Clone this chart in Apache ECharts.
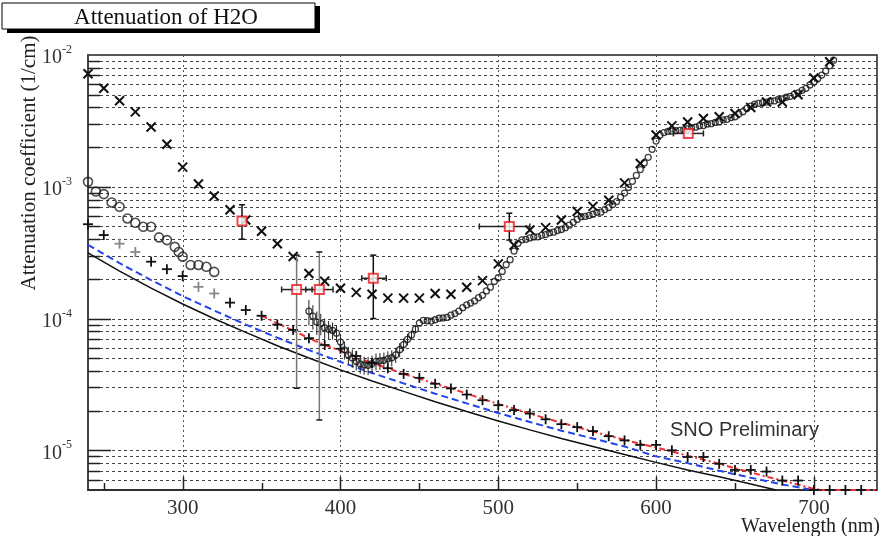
<!DOCTYPE html>
<html><head><meta charset="utf-8">
<script src="https://cdn.jsdelivr.net/npm/echarts@6/dist/echarts.min.js"></script>
<style>html,body{margin:0;padding:0;background:#fff}#c{width:882px;height:536px}</style>
</head><body><div id="c"></div>
<script>
// ---------------- axis ranges & ticks ----------------
const X_MIN = 240, X_MAX = 740, Y_MIN = 5e-6, Y_MAX = 1e-2;
const xTickLabels = [300, 400, 500, 600, 700];
const xMinorTicks = [250, 350, 450, 550, 650];

// ---------------- data: "x" markers ----------------
const crossWl = [240,250,260,270,280,290,300,310,320,330,340,350,360,370,380,390,400,410,420,430,440,450,460,470,480,490,500,510,520,530,540,550,560,570,580,590,600,610,620,630,640,650,660,670,680,690,700,710];
const crossVal = [7.2e-3,5.6e-3,4.5e-3,3.7e-3,2.84e-3,2.1e-3,1.41e-3,1.05e-3,8.5e-4,6.7e-4,5.6e-4,4.6e-4,3.7e-4,2.96e-4,2.2e-4,1.92e-4,1.7e-4,1.58e-4,1.53e-4,1.43e-4,1.43e-4,1.43e-4,1.55e-4,1.53e-4,1.73e-4,1.94e-4,2.6e-4,3.6e-4,4.7e-4,4.9e-4,5.6e-4,6.5e-4,7.1e-4,7.9e-4,1.07e-3,1.5e-3,2.47e-3,2.9e-3,3.1e-3,3.3e-3,3.4e-3,3.6e-3,4.0e-3,4.4e-3,4.4e-3,5.0e-3,6.7e-3,8.9e-3];

// ---------------- data: open circles ----------------
const circWl = [240,245,250,255,260,265,270,275,280,285,290,295,297.5,300,305,310,315,320];
const circVal = [1.09e-3,9.2e-4,8.8e-4,7.6e-4,7.05e-4,5.75e-4,5.33e-4,4.97e-4,4.97e-4,4.13e-4,3.94e-4,3.5e-4,3.2e-4,2.95e-4,2.55e-4,2.55e-4,2.47e-4,2.26e-4];

// ---------------- data: "+" markers ----------------
const plusWl = [240,250,280,290,300,330,340,350,360,370,380,390,400,410,420,430,440,450,460,470,480,490,500,510,520,530,540,550,560,570,580,590,600,610,620,630,640,650,660,670,680,690,700,710,720,730];
const plusVal = [5.2e-4,4.3e-4,2.7e-4,2.37e-4,2.1e-4,1.32e-4,1.16e-4,1.05e-4,9.0e-5,8.2e-5,7.1e-5,6.3e-5,5.9e-5,5.2e-5,4.6e-5,4.2e-5,3.8e-5,3.55e-5,3.2e-5,2.95e-5,2.65e-5,2.4e-5,2.2e-5,2.02e-5,1.9e-5,1.72e-5,1.58e-5,1.5e-5,1.4e-5,1.28e-5,1.19e-5,1.1e-5,1.1e-5,1.0e-5,8.9e-6,8.9e-6,7.9e-6,7.1e-6,7.1e-6,6.9e-6,5.9e-6,5.9e-6,5.0e-6,5.0e-6,5.0e-6,5.0e-6];
const plusGrayWl = [260,270,310,320];
const plusGrayVal = [3.7e-4,3.2e-4,1.74e-4,1.55e-4];

// ---------------- data: dense measurement (small circles) ----------------
const pfWl = [380,382.5,385,387.5,390,392.5,395,397.5,400,402.5,405,407.5,410,412.5,415,417.5,420,422.5,425,427.5,430,432.5,435,437.5,440,442.5,445,447.5,450,452.5,455,457.5,460,462.5,465,467.5,470,472.5,475,477.5,480,482.5,485,487.5,490,492.5,495,497.5,500,502.5,505,507.5,510,512.5,515,517.5,520,522.5,525,527.5,530,532.5,535,537.5,540,542.5,545,547.5,550,552.5,555,557.5,560,562.5,565,567.5,570,572.5,575,577.5,580,582.5,585,587.5,590,592.5,595,597.5,600,602.5,605,607.5,610,612.5,615,617.5,620,622.5,625,627.5,630,632.5,635,637.5,640,642.5,645,647.5,650,652.5,655,657.5,660,662.5,665,667.5,670,672.5,675,677.5,680,682.5,685,687.5,690,692.5,695,697.5,700,702.5,705,707.5,710,712.5];
const pfVal = [1.137e-4,1.044e-4,9.41e-5,9.17e-5,8.51e-5,8.29e-5,8.13e-5,7.75e-5,6.63e-5,5.79e-5,5.30e-5,5.03e-5,4.73e-5,4.52e-5,4.44e-5,4.42e-5,4.54e-5,4.74e-5,4.78e-5,4.82e-5,4.95e-5,5.04e-5,5.30e-5,5.80e-5,6.35e-5,6.96e-5,7.51e-5,8.30e-5,9.22e-5,9.69e-5,9.62e-5,9.57e-5,9.79e-5,1.005e-4,1.011e-4,1.020e-4,1.060e-4,1.090e-4,1.140e-4,1.210e-4,1.270e-4,1.310e-4,1.360e-4,1.440e-4,1.500e-4,1.620e-4,1.730e-4,1.910e-4,2.040e-4,2.280e-4,2.560e-4,2.800e-4,3.250e-4,3.720e-4,3.960e-4,3.990e-4,4.090e-4,4.160e-4,4.170e-4,4.280e-4,4.340e-4,4.470e-4,4.520e-4,4.660e-4,4.740e-4,4.890e-4,5.110e-4,5.370e-4,5.650e-4,5.930e-4,5.960e-4,6.060e-4,6.190e-4,6.400e-4,6.420e-4,6.720e-4,6.950e-4,7.330e-4,7.720e-4,8.360e-4,8.960e-4,9.890e-4,1.100e-3,1.220e-3,1.351e-3,1.516e-3,1.672e-3,1.925e-3,2.224e-3,2.470e-3,2.577e-3,2.629e-3,2.644e-3,2.665e-3,2.678e-3,2.707e-3,2.755e-3,2.810e-3,2.834e-3,2.904e-3,2.916e-3,2.995e-3,3.012e-3,3.077e-3,3.108e-3,3.220e-3,3.250e-3,3.350e-3,3.400e-3,3.580e-3,3.710e-3,3.930e-3,4.100e-3,4.240e-3,4.290e-3,4.350e-3,4.390e-3,4.480e-3,4.480e-3,4.610e-3,4.650e-3,4.780e-3,4.860e-3,5.030e-3,5.160e-3,5.390e-3,5.590e-3,5.920e-3,6.240e-3,6.630e-3,7.040e-3,7.560e-3,8.270e-3,9.140e-3];
// error (1/cm) of the first points of the dense measurement
const pfErr = [2.5e-5,2.2e-5,1.9e-5,1.7e-5,1.5e-5,1.3e-5,1.2e-5,1.1e-5,1.0e-5,9e-6,8e-6,8e-6,7e-6,7e-6,7e-6,7e-6,7e-6,7e-6,7e-6,7e-6,7e-6,7e-6,7e-6,7e-6,7e-6,7e-6,6e-6,6e-6];

// ---------------- data: SNO points (red squares) ----------------
const snoWl    = [337.6, 372.2, 386.6, 420.8, 507.0, 620.4];
const snoVal   = [5.5e-4, 1.66e-4, 1.66e-4, 2.02e-4, 5.0e-4, 2.54e-3];
const snoValLo = [4.0e-4, 2.96e-5, 1.7e-5, 1.0e-4, 3.94e-4, 2.54e-3];
const snoValHi = [7.3e-4, 3.03e-4, 3.2e-4, 3.03e-4, 6.3e-4, 2.54e-3];
const snoWlLo  = [337.6, 362.7, 378.0, 413.5, 488.0, 611.0];
const snoWlHi  = [337.6, 382.0, 395.3, 429.0, 520.0, 630.0];

// ---------------- data: curves ----------------
const blackWl  = [240,260,280,300,320,340,360,380,400,420,440,460,480,500,520,540,560,580,600,620,640,660,676];
const blackVal = [3.15e-4,2.29e-4,1.70e-4,1.29e-4,9.97e-5,7.85e-5,6.22e-5,5.02e-5,4.08e-5,3.36e-5,2.80e-5,2.34e-5,1.97e-5,1.67e-5,1.43e-5,1.23e-5,1.07e-5,9.3e-6,8.1e-6,7.1e-6,6.3e-6,5.55e-6,5.0e-6];
const blueWl   = [240,260,280,300,320,340,360,380,400,420,440,460,480,500,520,540,560,580,600,620,640,660,680,700];
const blueVal  = [3.62e-4,2.63e-4,1.96e-4,1.48e-4,1.15e-4,9.0e-5,7.15e-5,5.77e-5,4.69e-5,3.86e-5,3.22e-5,2.69e-5,2.27e-5,1.92e-5,1.64e-5,1.41e-5,1.23e-5,1.07e-5,9.0e-6,8.0e-6,7.0e-6,6.2e-6,5.5e-6,5.0e-6];
const redWl    = [350,360,370,380,390,400,410,420,430,440,450,460,470,480,490,500,510,520,530,540,550,560,570,580,590,600,610,620,630,640,650,660,670,680,690,700,705,740];
const redVal   = [1.05e-4,9.2e-5,8.1e-5,7.1e-5,6.3e-5,5.7e-5,5.1e-5,4.6e-5,4.2e-5,3.8e-5,3.5e-5,3.2e-5,2.95e-5,2.7e-5,2.45e-5,2.25e-5,2.07e-5,1.9e-5,1.75e-5,1.62e-5,1.5e-5,1.39e-5,1.29e-5,1.2e-5,1.12e-5,1.05e-5,9.8e-6,9.1e-6,8.5e-6,7.9e-6,7.3e-6,6.8e-6,6.3e-6,5.9e-6,5.5e-6,5.1e-6,5.0e-6,5.0e-6];

// ---------------- helpers ----------------
const pairs = (xs, ys) => xs.map((x, i) => [x, ys[i]]);

// y grid values: every 1..9 x decade inside the axis range (excluding the frame edges)
const yGrid = [];
for (let e = -6; e <= -3; e++) {
  for (let m = 1; m <= 9; m++) {
    const v = m * Math.pow(10, e);
    if (v > Y_MIN * 1.0001 && v < Y_MAX * 0.9999) yGrid.push([X_MIN, v, m === 1 ? 1 : 0]);
  }
}
const xGrid = xTickLabels.map(v => [v, Y_MIN, 1]).concat(xMinorTicks.map(v => [v, Y_MIN, 0]));

function markSeries(name, xs, ys, kind, color, size, lw, z) {
  return {
    type: 'custom', name, coordinateSystem: 'cartesian2d', clip: false, silent: true, z,
    data: pairs(xs, ys),
    renderItem(params, api) {
      const p = api.coord([api.value(0), api.value(1)]);
      const h = size / 2;
      const st = { stroke: color, lineWidth: lw };
      const ch = kind === 'x'
        ? [{ type: 'line', shape: { x1: p[0]-h, y1: p[1]-h, x2: p[0]+h, y2: p[1]+h }, style: st },
           { type: 'line', shape: { x1: p[0]-h, y1: p[1]+h, x2: p[0]+h, y2: p[1]-h }, style: st }]
        : [{ type: 'line', shape: { x1: p[0]-h, y1: p[1], x2: p[0]+h, y2: p[1] }, style: st },
           { type: 'line', shape: { x1: p[0], y1: p[1]-h, x2: p[0], y2: p[1]+h }, style: st }];
      return { type: 'group', children: ch };
    }
  };
}

const serif = 'Liberation Serif';
const chart = echarts.init(document.getElementById('c'), null, { renderer: 'canvas' });

const option = {
  animation: false,
  backgroundColor: '#fff',
  grid: { left: 88, right: 5, top: 55, bottom: 46, show: true, borderColor: '#222', borderWidth: 1.5,
          containLabel: false, outerBoundsMode: 'none' },
  xAxis: {
    type: 'value', min: X_MIN, max: X_MAX,
    axisLine: { show: true, lineStyle: { color: '#222', width: 1.5 } },
    axisTick: { show: false }, splitLine: { show: false }, minorTick: { show: false },
    axisLabel: { margin: 8, fontSize: 21, fontFamily: serif, color: '#333',
      formatter: v => (xTickLabels.indexOf(v) >= 0 ? String(v) : '') }
  },
  yAxis: {
    type: 'log', logBase: 10, min: Y_MIN, max: Y_MAX,
    axisLine: { show: true, lineStyle: { color: '#444', width: 2 } },
    axisTick: { show: false }, splitLine: { show: false }, minorTick: { show: false },
    axisLabel: {
      margin: 16,
      formatter: v => {
        const e = Math.log10(v), r = Math.round(e);
        if (Math.abs(e - r) > 1e-6) return '';
        return '{b|10}{s|' + r + '}';
      },
      rich: {
        b: { fontSize: 20, fontFamily: serif, color: '#333', lineHeight: 22, padding: [6, 0, 0, 0] },
        s: { fontSize: 12, fontFamily: serif, color: '#333', lineHeight: 12, verticalAlign: 'top' }
      }
    }
  },
  graphic: [
    { type: 'rect', z: 100, shape: { x: 7, y: 6, width: 313, height: 27 }, style: { fill: '#000' } },
    { type: 'rect', z: 101, shape: { x: 2, y: 3, width: 313, height: 26 }, style: { fill: '#fff', stroke: '#000', lineWidth: 1 } },
    { type: 'text', z: 102, x: 166, y: 18, style: { text: 'Attenuation of H2O', font: '23px "Liberation Serif"', fill: '#111', align: 'center', verticalAlign: 'middle', textAlign: 'center', textVerticalAlign: 'middle' } },
    { type: 'text', z: 102, x: 29.5, y: 163, rotation: Math.PI / 2, style: { text: 'Attenuation coefficient (1/cm)', font: '21px "Liberation Serif"', fill: '#222', align: 'center', verticalAlign: 'middle', textAlign: 'center', textVerticalAlign: 'middle' } },
    { type: 'text', z: 102, x: 880, y: 527, style: { text: 'Wavelength (nm)', font: '20px "Liberation Serif"', fill: '#222', align: 'right', verticalAlign: 'middle', textAlign: 'right', textVerticalAlign: 'middle' } },
    { type: 'text', z: 102, x: 670, y: 430, style: { text: 'SNO Preliminary', font: '20px "Liberation Sans"', fill: '#333', align: 'left', verticalAlign: 'middle', textAlign: 'left', textVerticalAlign: 'middle' } }
  ],
  series: [
    // horizontal grid + y ticks
    {
      type: 'custom', name: 'ygrid', coordinateSystem: 'cartesian2d', silent: true, clip: false, z: 1,
      data: yGrid,
      renderItem(params, api) {
        const cs = params.coordSys;
        const y = Math.round(api.coord([X_MIN, api.value(1)])[1]) + 0.5;
        const major = api.value(2) === 1;
        return { type: 'group', children: [
          { type: 'line', shape: { x1: cs.x, y1: y, x2: cs.x + cs.width, y2: y }, style: { stroke: '#444', lineWidth: 1, lineDash: [3, 3] } },
          { type: 'line', shape: { x1: cs.x, y1: y, x2: cs.x + (major ? 23 : 12), y2: y }, style: { stroke: '#222', lineWidth: 1.5 } }
        ] };
      }
    },
    // vertical grid + x ticks
    {
      type: 'custom', name: 'xgrid', coordinateSystem: 'cartesian2d', silent: true, clip: false, z: 1,
      data: xGrid,
      renderItem(params, api) {
        const cs = params.coordSys;
        const x = Math.round(api.coord([api.value(0), Y_MIN])[0]) + 0.5;
        const major = api.value(2) === 1;
        const bottom = cs.y + cs.height;
        const ch = [{ type: 'line', shape: { x1: x, y1: bottom, x2: x, y2: bottom - (major ? 13 : 7) }, style: { stroke: '#222', lineWidth: 1.5 } }];
        if (major) ch.unshift({ type: 'line', shape: { x1: x, y1: cs.y, x2: x, y2: bottom }, style: { stroke: '#555', lineWidth: 1, lineDash: [2, 3] } });
        return { type: 'group', children: ch };
      }
    },
    // curves
    { type: 'line', name: 'black', data: pairs(blackWl, blackVal), showSymbol: false, z: 3, silent: true,
      lineStyle: { color: '#111', width: 1.5 } },
    { type: 'line', name: 'blue', data: pairs(blueWl, blueVal), showSymbol: false, z: 3, silent: true,
      lineStyle: { color: '#2244ee', width: 2, type: [7, 4] } },
    { type: 'line', name: 'red', data: pairs(redWl, redVal), showSymbol: false, z: 3, silent: true,
      lineStyle: { color: '#f03030', width: 2, type: [6, 3, 2, 3] } },
    // dense measurement with error bars
    {
      type: 'custom', name: 'pfErr', coordinateSystem: 'cartesian2d', silent: true, clip: true, z: 4,
      data: pfErr.map((e, i) => [pfWl[i], pfVal[i], pfVal[i] - e, pfVal[i] + e]),
      renderItem(params, api) {
        const a = api.coord([api.value(0), api.value(2)]);
        const b = api.coord([api.value(0), api.value(3)]);
        return { type: 'line', shape: { x1: a[0], y1: a[1], x2: b[0], y2: b[1] }, style: { stroke: '#222', lineWidth: 1 } };
      }
    },
    { type: 'scatter', name: 'dense', data: pairs(pfWl, pfVal), symbol: 'circle', symbolSize: 6, clip: true, z: 4, silent: true,
      itemStyle: { color: 'rgba(0,0,0,0)', borderColor: '#111', borderWidth: 1.3 } },
    // open circles
    { type: 'scatter', name: 'circles', data: pairs(circWl, circVal), symbol: 'circle', symbolSize: 9, clip: false, z: 5, silent: true,
      itemStyle: { color: 'rgba(0,0,0,0)', borderColor: '#222', borderWidth: 1.6 } },
    markSeries('plus', plusWl, plusVal, '+', '#111', 10, 1.8, 5),
    markSeries('plusGray', plusGrayWl, plusGrayVal, '+', '#888', 10, 1.8, 5),
    markSeries('cross', crossWl, crossVal, 'x', '#111', 9, 2, 5),
    // SNO error bars
    {
      type: 'custom', name: 'snoErr', coordinateSystem: 'cartesian2d', silent: true, clip: false, z: 6,
      data: snoWl.map((w, i) => [w, snoVal[i], snoValLo[i], snoValHi[i], snoWlLo[i], snoWlHi[i], i]),
      renderItem(params, api) {
        const x = api.value(0), v = api.value(1);
        const idx = api.value(6);
        const ch = [];
        const cap = 3;
        if (api.value(3) > api.value(2)) {
          const lo = api.coord([x, api.value(2)]), hi = api.coord([x, api.value(3)]);
          const col = (idx === 1 || idx === 2) ? '#777' : '#111';
          ch.push({ type: 'line', shape: { x1: lo[0], y1: lo[1], x2: hi[0], y2: hi[1] }, style: { stroke: col, lineWidth: 1.5 } });
          ch.push({ type: 'line', shape: { x1: lo[0]-cap, y1: lo[1], x2: lo[0]+cap, y2: lo[1] }, style: { stroke: '#111', lineWidth: 1.5 } });
          ch.push({ type: 'line', shape: { x1: hi[0]-cap, y1: hi[1], x2: hi[0]+cap, y2: hi[1] }, style: { stroke: '#111', lineWidth: 1.5 } });
        }
        if (api.value(5) > api.value(4)) {
          const l = api.coord([api.value(4), v]), r = api.coord([api.value(5), v]);
          ch.push({ type: 'line', shape: { x1: l[0], y1: l[1], x2: r[0], y2: r[1] }, style: { stroke: '#222', lineWidth: 1.5 } });
          ch.push({ type: 'line', shape: { x1: l[0], y1: l[1]-cap, x2: l[0], y2: l[1]+cap }, style: { stroke: '#222', lineWidth: 1.5 } });
          ch.push({ type: 'line', shape: { x1: r[0], y1: r[1]-cap, x2: r[0], y2: r[1]+cap }, style: { stroke: '#222', lineWidth: 1.5 } });
        }
        return { type: 'group', children: ch };
      }
    },
    { type: 'scatter', name: 'sno', data: pairs(snoWl, snoVal), symbol: 'rect', symbolSize: 9, clip: false, z: 7, silent: true,
      itemStyle: { color: '#fff', borderColor: '#e8191e', borderWidth: 2 } }
  ]
};
chart.setOption(option);
</script></body></html>
